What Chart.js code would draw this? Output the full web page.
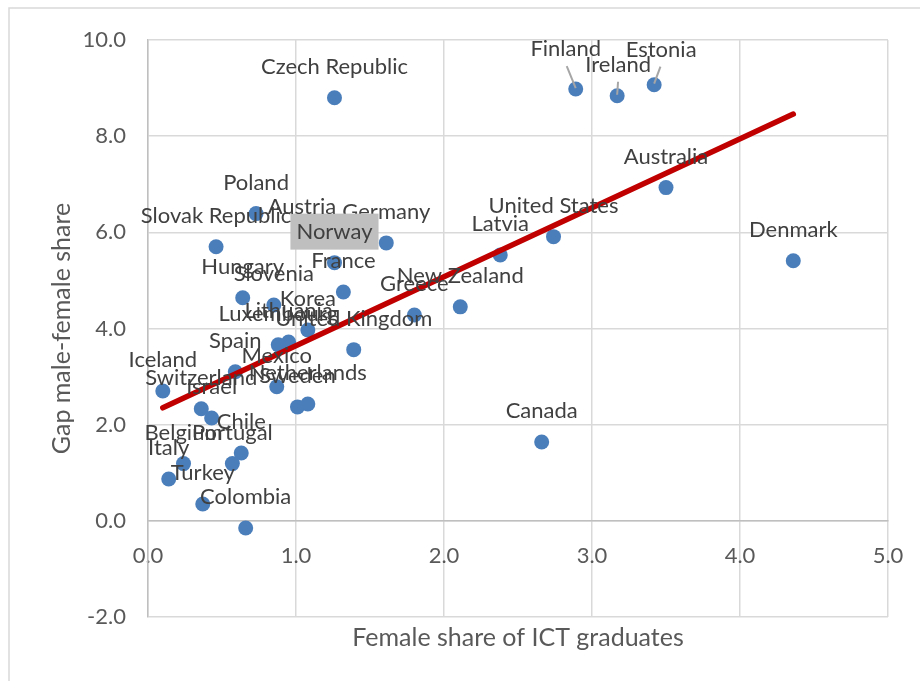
<!DOCTYPE html>
<html>
<head>
<meta charset="utf-8">
<script src="https://cdn.jsdelivr.net/npm/chart.js@4.4.1/dist/chart.umd.min.js"></script>
<style>
  html, body { margin: 0; padding: 0; background: #fff; }
  #wrap { width: 920px; height: 681px; }
</style>
</head>
<body>
<div id="wrap"><canvas id="chart-ict"></canvas></div>
<script>
/* ICT graduates scatter */

const countries = [
  'Czech Republic', 'Finland', 'Ireland', 'Estonia', 'Australia', 'Denmark',
  'United States', 'Latvia', 'New Zealand', 'Greece', 'Canada', 'Germany',
  'Norway', 'France', 'Austria', 'Poland', 'Slovak Republic', 'Hungary',
  'Slovenia', 'Korea', 'Lithuania', 'Luxembourg', 'United Kingdom', 'Spain',
  'Mexico', 'Netherlands', 'Sweden', 'Switzerland', 'Israel', 'Iceland',
  'Chile', 'Portugal', 'Belgium', 'Italy', 'Turkey', 'Colombia',
];
const femaleShare = [
  1.26, 2.89, 3.17, 3.42, 3.50, 4.36,
  2.74, 2.38, 2.11, 1.80, 2.66, 1.61,
  1.26, 1.32, 1.04, 0.73, 0.46, 0.64,
  0.85, 1.08, 0.95, 0.88, 1.39, 0.59,
  0.87, 1.08, 1.01, 0.36, 0.43, 0.10,
  0.63, 0.57, 0.24, 0.14, 0.37, 0.66,
];
const gapShare = [
  8.80, 8.98, 8.84, 9.07, 6.93, 5.41,
  5.91, 5.53, 4.45, 4.28, 1.64, 5.78,
  5.37, 4.76, 5.89, 6.39, 5.70, 4.64,
  4.49, 3.97, 3.72, 3.66, 3.56, 3.10,
  2.79, 2.43, 2.37, 2.33, 2.14, 2.70,
  1.41, 1.19, 1.19, 0.87, 0.35, -0.15,
];
// linear trendline end points
const trendX = [0.10, 4.36];
const trendY = [2.35, 8.46];

const FONT = 'Lato, "Open Sans", sans-serif';
const COLORS = {
  point: '#4a7ebb',
  trend: '#c00000',
  grid: '#d9d9d9',
  axis: '#bfbfbf',
  tick: '#595959',
  label: '#404040',
  leader: '#a6a6a6',
  highlight: '#bfbfbf',
};

// label tweaks (pixels) — moved labels get a leader line
const labelNudge = { 'Finland': [-10, -9], 'Estonia': [7, -4], 'Ireland': [1, 0] };
const leaderLines = ['Finland', 'Ireland', 'Estonia'];
const boxedLabels = ['Norway'];

const frame = {
  id: 'frame',
  beforeDraw(chart) {
    const { ctx } = chart;
    ctx.save();
    ctx.fillStyle = '#fff';
    ctx.fillRect(0, 0, chart.width, chart.height);
    ctx.strokeStyle = COLORS.grid;
    ctx.lineWidth = 1.5;
    ctx.strokeRect(9, 8, chart.width + 20, chart.height + 20);
    ctx.restore();
  },
};

const pointLabels = {
  id: 'pointLabels',
  afterDatasetsDraw(chart) {
    const { ctx } = chart;
    const meta = chart.getDatasetMeta(1);
    ctx.save();
    ctx.font = '22px ' + FONT;
    ctx.textAlign = 'center';
    ctx.textBaseline = 'middle';
    meta.data.forEach((pt, i) => {
      const name = countries[i];
      const [dx, dy] = labelNudge[name] || [0, 0];
      const lx = pt.x + dx;
      const ly = pt.y - 31 + dy;
      if (leaderLines.includes(name)) {
        ctx.strokeStyle = COLORS.leader;
        ctx.lineWidth = 2;
        ctx.beginPath();
        ctx.moveTo(lx + (pt.x - lx) * 0.1, ly + 17);
        ctx.lineTo(pt.x, pt.y - 1);
        ctx.stroke();
      }
      if (boxedLabels.includes(name)) {
        const w = ctx.measureText(name).width + 12;
        ctx.fillStyle = COLORS.highlight;
        ctx.fillRect(lx - w / 2, ly - 18, w, 36);
      }
      ctx.fillStyle = COLORS.label;
      ctx.fillText(name, lx, ly);
    });
    ctx.restore();
  },
};

const points = countries.map((c, i) => ({ x: femaleShare[i], y: gapShare[i] }));
const trend = trendX.map((x, i) => ({ x, y: trendY[i] }));

const noSidePadding = scale => {
  scale.paddingLeft = 0;
  scale.paddingRight = 0;
};

new Chart(document.getElementById('chart-ict'), {
  type: 'scatter',
  data: {
    datasets: [
      {
        type: 'line',
        data: trend,
        borderColor: COLORS.trend,
        borderWidth: 5.5,
        borderCapStyle: 'round',
        pointRadius: 0,
        fill: false,
      },
      {
        data: points,
        backgroundColor: COLORS.point,
        borderWidth: 0,
        pointRadius: 7.5,
      },
    ],
  },
  options: {
    responsive: true,
    maintainAspectRatio: false,
    animation: false,
    layout: { padding: { top: 40, right: 32, bottom: 0, left: 0 } },
    plugins: {
      legend: { display: false },
      tooltip: { enabled: false },
    },
    scales: {
      x: {
        type: 'linear',
        position: { y: 0 },
        min: 0,
        max: 5,
        grid: { color: COLORS.grid, lineWidth: 1.5, drawTicks: false },
        border: { color: COLORS.axis, width: 1.5 },
        ticks: {
          stepSize: 1,
          padding: 22,
          color: COLORS.tick,
          font: { family: FONT, size: 22 },
          callback: v => v.toFixed(1),
        },
        afterFit: noSidePadding,
      },
      xTitle: {
        type: 'linear',
        axis: 'x',
        position: 'bottom',
        min: 0,
        max: 5,
        grid: { display: false },
        border: { display: false },
        ticks: { display: false },
        title: {
          display: true,
          text: 'Female share of ICT graduates',
          color: COLORS.tick,
          font: { family: FONT, size: 25 },
          padding: { top: 0, bottom: 28 },
        },
        afterFit: scale => { noSidePadding(scale); scale.height = 64; },
      },
      y: {
        min: -2,
        max: 10,
        grid: { color: COLORS.grid, lineWidth: 1.5, drawTicks: false },
        border: { color: COLORS.axis, width: 1.5 },
        ticks: {
          stepSize: 2,
          padding: 22,
          color: COLORS.tick,
          font: { family: FONT, size: 22 },
          callback: v => v.toFixed(1),
        },
        title: {
          display: true,
          text: 'Gap male-female share',
          color: COLORS.tick,
          font: { family: FONT, size: 25 },
          padding: { top: 47, bottom: 0 },
        },
        afterFit: scale => { scale.width = 148; },
      },
    },
  },
  plugins: [frame, pointLabels],
});
</script>
</body>
</html>
